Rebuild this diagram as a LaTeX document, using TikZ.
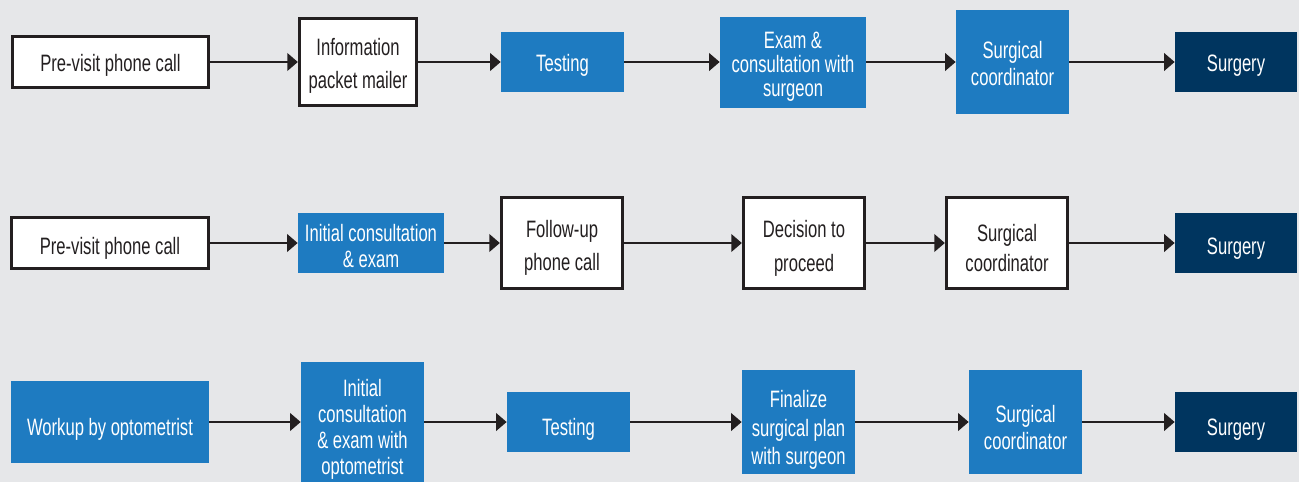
\documentclass[tikz,border=0pt]{standalone}
\usepackage{fontspec}
\setmainfont{Liberation Sans}[FakeStretch=0.7]
\usetikzlibrary{arrows.meta}
\definecolor{fc_bg}{RGB}{230,231,233}
\definecolor{fc_blue}{RGB}{30,123,193}
\definecolor{fc_navy}{RGB}{0,53,95}
\definecolor{fc_ink}{RGB}{35,31,32}
\tikzstyle{box}=[rectangle,align=center,inner sep=2pt,text height=15.8pt]
\tikzstyle{wn}=[box,fill=white,draw=fc_ink,line width=1.6pt,text=fc_ink,
  font=\fontsize{13.5}{19}\selectfont]
\tikzstyle{bn}=[box,fill=fc_blue,text=white,
  font=\fontsize{13.5}{15.5}\selectfont]
\tikzstyle{dn}=[box,fill=fc_navy,text=white,
  font=\fontsize{13.5}{15.5}\selectfont]
\tikzstyle{ar}=[draw=fc_ink,line width=1.2pt,-{Triangle[length=6pt,width=10pt]}]

\begin{document}
\begin{tikzpicture}
    \fill [fc_bg] (0, 0) rectangle (25.98, -9.64);
    \useasboundingbox (0, 0) rectangle (25.98, -9.64);
    % first row
    \node [style=wn, minimum width=3.93cm, minimum height=1.03cm, text height=13.5pt] (1) at (2.21, -1.24) {Pre-visit phone call};
    \node [style=wn, minimum width=2.35cm, minimum height=1.73cm, text height=33.4pt] (2) at (7.16, -1.24) {Information\\packet mailer};
    \node [style=bn, minimum width=2.46cm, minimum height=1.20cm, text height=13.5pt] (3) at (11.25, -1.24) {Testing};
    \node [style=bn, minimum width=2.92cm, minimum height=1.82cm, text height=42.2pt, font=\fontsize{13.5}{13.6}\selectfont] (4) at (15.86, -1.24) {Exam \&\\consultation with\\surgeon};
    \node [style=bn, minimum width=2.26cm, minimum height=2.08cm, text height=27pt] (5) at (20.25, -1.24) {Surgical\\coordinator};
    \node [style=dn, minimum width=2.44cm, minimum height=1.20cm, text height=13.5pt] (6) at (24.72, -1.24) {Surgery};
    % second row
    \node [style=wn, minimum width=3.93cm, minimum height=1.01cm] (11) at (2.20, -4.86) {Pre-visit phone call};
    \node [style=bn, minimum width=2.92cm, minimum height=1.20cm, text height=28.3pt, font=\fontsize{13.5}{15}\selectfont] (12) at (7.42, -4.86) {Initial consultation\\\& exam};
    \node [style=wn, minimum width=2.43cm, minimum height=1.81cm, text height=34.5pt] (13) at (11.24, -4.86) {Follow-up\\phone call};
    \node [style=wn, minimum width=2.43cm, minimum height=1.81cm, text height=35.1pt] (14) at (16.08, -4.86) {Decision to\\proceed};
    \node [style=wn, minimum width=2.43cm, minimum height=1.81cm, text height=32.9pt, font=\fontsize{13.5}{17}\selectfont] (15) at (20.14, -4.86) {Surgical\\coordinator};
    \node [style=dn, minimum width=2.44cm, minimum height=1.20cm] (16) at (24.72, -4.86) {Surgery};
    % third row
    \node [style=bn, minimum width=3.96cm, minimum height=1.64cm, text height=18pt] (21) at (2.20, -8.44) {Workup by optometrist};
    \node [style=bn, minimum width=2.46cm, minimum height=2.38cm, text height=62pt, font=\fontsize{13.5}{14.7}\selectfont] (22) at (7.25, -8.44) {Initial\\consultation\\\& exam with\\optometrist};
    \node [style=bn, minimum width=2.46cm, minimum height=1.20cm, text height=18pt] (23) at (11.37, -8.44) {Testing};
    \node [style=bn, minimum width=2.26cm, minimum height=2.08cm, text height=51.7pt, font=\fontsize{13.5}{16.4}\selectfont] (24) at (15.97, -8.44) {Finalize\\surgical plan\\with surgeon};
    \node [style=bn, minimum width=2.26cm, minimum height=2.08cm, text height=31.6pt] (25) at (20.51, -8.44) {Surgical\\coordinator};
    \node [style=dn, minimum width=2.44cm, minimum height=1.20cm, text height=18pt] (26) at (24.72, -8.44) {Surgery};
    \foreach \a/\b in {1/2, 2/3, 3/4, 4/5, 5/6, 11/12, 12/13, 13/14, 14/15, 15/16, 21/22, 22/23, 23/24, 24/25, 25/26}
        \draw [style=ar] (\a) to (\b);
\end{tikzpicture}
\end{document}
